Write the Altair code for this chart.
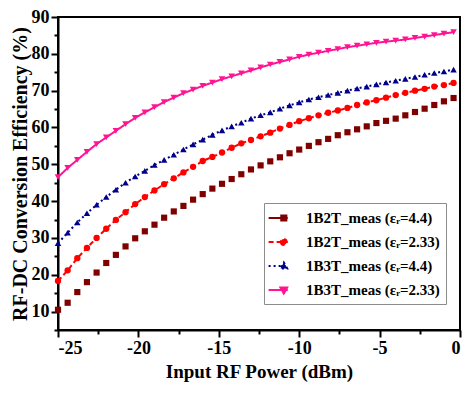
import altair as alt
import pandas as pd

# ---- data ----
power_dbm = [-25.0, -24.4, -23.8, -23.2, -22.6, -22.0, -21.4, -20.8, -20.2, -19.6,
             -19.0, -18.4, -17.8, -17.2, -16.6, -16.0, -15.4, -14.8, -14.2, -13.6,
             -13.0, -12.4, -11.8, -11.2, -10.6, -10.0, -9.4, -8.8, -8.2, -7.6,
             -7.0, -6.4, -5.8, -5.2, -4.6, -4.0, -3.4, -2.8, -2.2, -1.6, -1.0, -0.4]

eff_1b2t_44 = [10.5, 12.4, 15.3, 18.0, 20.6, 23.2, 25.4, 27.7, 29.9, 31.8,
               33.6, 35.5, 37.2, 38.7, 40.4, 41.9, 43.4, 44.7, 46.0, 47.3,
               48.6, 49.7, 50.8, 51.9, 53.0, 54.0, 55.0, 56.0, 56.9, 57.9,
               58.7, 59.5, 60.3, 61.2, 61.8, 62.4, 63.3, 64.2, 65.1, 66.1, 67.1, 68.0]
eff_1b2t_233 = [18.3, 21.2, 24.5, 27.3, 30.0, 32.5, 34.9, 37.0, 39.2, 41.1,
                42.9, 44.6, 46.2, 47.8, 49.3, 50.9, 52.0, 53.2, 54.5, 55.7,
                56.6, 57.6, 58.6, 59.7, 60.7, 61.7, 62.5, 63.3, 64.0, 64.6,
                65.3, 66.1, 66.8, 67.4, 68.1, 68.8, 69.4, 70.0, 70.5, 71.1, 71.5, 72.1]
eff_1b3t_44 = [28.6, 31.4, 34.2, 36.7, 39.0, 41.1, 43.1, 45.0, 46.7, 48.2,
               49.8, 51.2, 52.6, 54.0, 55.4, 56.7, 58.0, 59.2, 60.3, 61.3,
               62.4, 63.3, 64.1, 65.1, 66.0, 66.8, 67.6, 68.2, 68.8, 69.4,
               70.0, 70.6, 71.1, 71.7, 72.2, 72.7, 73.2, 73.7, 74.3, 74.8, 75.2, 75.7]
eff_1b3t_233 = [46.5, 49.0, 51.2, 53.4, 55.5, 57.3, 59.1, 60.9, 62.6, 64.1,
                65.5, 66.9, 68.1, 69.3, 70.3, 71.3, 72.2, 73.1, 73.9, 74.7,
                75.5, 76.3, 77.1, 77.8, 78.5, 79.2, 79.8, 80.3, 80.8, 81.3,
                81.8, 82.2, 82.6, 83.0, 83.3, 83.6, 83.9, 84.3, 84.7, 85.1, 85.5, 85.9]

series_names = ["1B2T_meas (\u03b5\u1d63=4.4)", "1B2T_meas (\u03b5\u1d63=2.33)",
                "1B3T_meas (\u03b5\u1d63=4.4)", "1B3T_meas (\u03b5\u1d63=2.33)"]
series_colors = ["#800000", "#ff0000", "#00008b", "#ff1493"]
series_values = [eff_1b2t_44, eff_1b2t_233, eff_1b3t_44, eff_1b3t_233]

x_ticks = [-25, -22.5, -20, -17.5, -15, -12.5, -10, -7.5, -5, -2.5, 0]
y_ticks = [5, 10, 15, 20, 25, 30, 35, 40, 45, 50, 55, 60, 65, 70, 75, 80, 85, 90]

rows = []
for name, vals in zip(series_names, series_values):
    for xv, yv in zip(power_dbm, vals):
        rows.append({"power": xv, "eff": yv, "series": name})
df = pd.DataFrame(rows)

FONT = "Liberation Serif"

x_enc = alt.X("power:Q",
              scale=alt.Scale(domain=[-25, 0], nice=False, zero=False),
              axis=alt.Axis(title="Input RF Power (dBm)", titleFontSize=19,
                            values=x_ticks, grid=False,
                            labelExpr="datum.value % 5 === 0 ? '' + datum.value : ''",
                            tickSize={"condition": {"test": "datum.value % 5 === 0", "value": 7}, "value": 4},
                            labelPadding=2, titlePadding=5))
y_enc = alt.Y("eff:Q",
              scale=alt.Scale(domain=[5, 90], nice=False, zero=False),
              axis=alt.Axis(title="RF-DC Conversion Efficiency (%)", titleFontSize=20,
                            values=y_ticks, grid=False,
                            labelExpr="datum.value % 10 === 0 ? '' + datum.value : ''",
                            tickSize={"condition": {"test": "datum.value % 10 === 0", "value": 7}, "value": 4},
                            labelPadding=2, titlePadding=1))

color_scale = alt.Scale(domain=series_names, range=series_colors)
dash_scale = alt.Scale(domain=series_names, range=[[1, 0], [5, 3], [2, 3], [1, 0]])

# connecting lines (the 1B2T eps=4.4 series is shown as markers only)
lines = alt.Chart(df).transform_filter(
    alt.datum.series != series_names[0]
).mark_line(strokeWidth=2).encode(
    x=x_enc, y=y_enc,
    color=alt.Color("series:N", scale=color_scale, legend=None),
    strokeDash=alt.StrokeDash("series:N", legend=None, scale=dash_scale),
)

points = alt.Chart(df).mark_point(filled=True, opacity=1).encode(
    x=x_enc, y=y_enc,
    color=alt.Color("series:N", scale=color_scale, legend=None),
    shape=alt.Shape("series:N", legend=None,
                    scale=alt.Scale(domain=series_names,
                                    range=["square", "circle", "triangle-up", "triangle-down"])),
    size=alt.Size("series:N", legend=None,
                  scale=alt.Scale(domain=series_names, range=[38, 44, 60, 75])),
)

# legend-only layer (no data drawn), symbols = line segment + marker
leg = dict(orient="none", legendX=206, legendY=186, title=None)
legend_shapes = [
    "M-1.3,0H1.1M0.28,-0.32H0.92V0.32H0.28Z",
    "M-1.3,0H1.1M0.24,0A0.36,0.36 0 1,0 0.96,0A0.36,0.36 0 1,0 0.24,0Z",
    "M-1.3,0H1.1M0.6,-0.44L1.02,0.3H0.18Z",
    "M-1.3,0H1.1M0.6,0.44L1.02,-0.3H0.18Z",
]
legend_layer = alt.Chart(df).transform_filter("false").mark_point(
    filled=True, size=256, strokeWidth=2
).encode(
    x=x_enc, y=y_enc,
    color=alt.Color("series:N", scale=color_scale, legend=alt.Legend(**leg)),
    stroke=alt.Stroke("series:N", scale=color_scale, legend=alt.Legend(**leg)),
    shape=alt.Shape("series:N", scale=alt.Scale(domain=series_names, range=legend_shapes),
                    legend=alt.Legend(**leg)),
    strokeDash=alt.StrokeDash("series:N", legend=alt.Legend(**leg), scale=dash_scale),
)

chart = alt.layer(legend_layer, lines, points).resolve_scale(
    color="independent", shape="independent", strokeDash="independent",
    stroke="independent", size="independent"
).properties(
    width=402, height=313,
    autosize=alt.AutoSizeParams(type="none"),
    padding={"left": 50, "top": 9, "right": 6, "bottom": 56},
).configure_view(
    stroke="black", strokeWidth=2
).configure_axis(
    domainColor="black", domainWidth=2, tickColor="black", tickWidth=2,
    labelFont=FONT, labelFontSize=18, labelFontWeight="bold", labelColor="black",
    titleFont=FONT, titleFontWeight="bold", titleColor="black",
).configure_legend(
    labelFont=FONT, labelFontSize=15, labelFontWeight="bold", labelColor="black",
    symbolSize=256, symbolStrokeWidth=2, symbolOpacity=1,
    padding=6, rowPadding=7, labelOffset=18,
    strokeColor="#8c8c8c", fillColor="white", labelLimit=300,
)

chart.save("out.html", embed_options={"renderer": "svg", "actions": False})
